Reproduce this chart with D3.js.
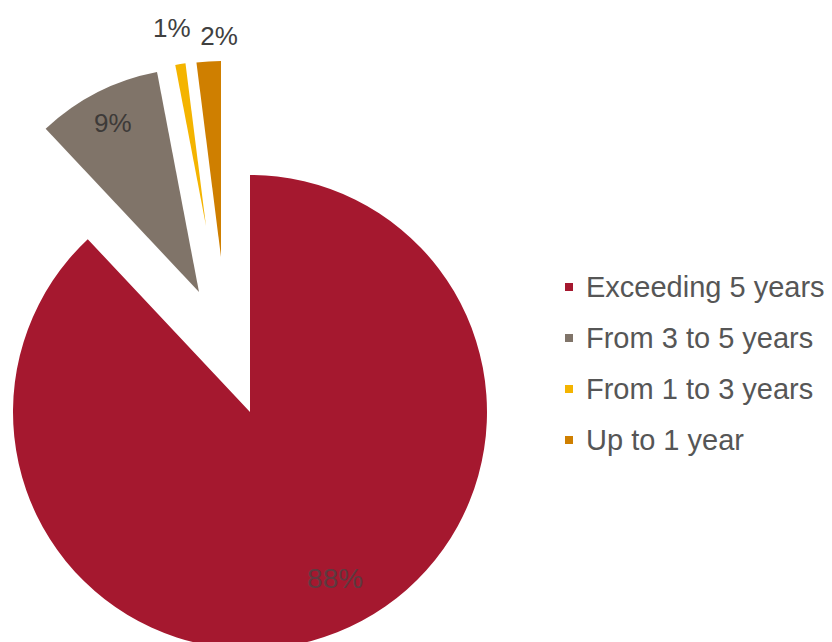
<!DOCTYPE html>
<html>
<head>
<meta charset="utf-8">
<script src="https://cdn.jsdelivr.net/npm/d3@7"></script>
<style>
  html, body { margin: 0; padding: 0; background: #fff; }
  svg { display: block; font-family: "Liberation Sans", Arial, sans-serif; }
</style>
</head>
<body>
<svg id="chart" width="832" height="642"></svg>
<script>
// data
var categories = ["Exceeding 5 years", "From 3 to 5 years", "From 1 to 3 years", "Up to 1 year"];
var shares = [88, 9, 1, 2];
var labels = ["88%", "9%", "1%", "2%"];
var colors = ["#a5182f", "#807469", "#f4b400", "#cf7f00"];

// layout per slice: pulled-out offset of the slice tip, radius, label placement
var explode = [[0, 0], [-51, -120], [-44, -186], [-29, -155]];
var radii = [237, 224, 164, 196];
var labelR = [185, 190, 200, 221];
var labelNudge = [[17, -6], [0, 0], [-3, 0], [12, 0]];
var labelFill = ["#5e3a40", "#3d3a38", "#404040", "#404040"];

var cx = 250, cy = 412;

var svg = d3.select("#chart");
svg.append("rect").attr("width", 832).attr("height", 642).attr("fill", "#fff");

var pie = d3.pie().sort(null).startAngle(0).endAngle(2 * Math.PI).value(function (d) { return d; });
var arcs = pie(shares);

var g = svg.append("g").attr("transform", "translate(" + cx + "," + cy + ")");

var slices = g.selectAll("g.slice")
    .data(arcs)
    .enter()
    .append("g")
    .attr("class", "slice")
    .attr("transform", function (d, i) { return "translate(" + explode[i][0] + "," + explode[i][1] + ")"; });

slices.append("path")
    .attr("d", function (d, i) {
        return d3.arc().innerRadius(0).outerRadius(radii[i])(d);
    })
    .attr("fill", function (d, i) { return colors[i]; });

slices.append("text")
    .attr("x", function (d, i) {
        var a = (d.startAngle + d.endAngle) / 2;
        return Math.sin(a) * labelR[i] + labelNudge[i][0];
    })
    .attr("y", function (d, i) {
        var a = (d.startAngle + d.endAngle) / 2;
        return -Math.cos(a) * labelR[i] + labelNudge[i][1];
    })
    .attr("text-anchor", "middle")
    .attr("dominant-baseline", "central")
    .attr("font-size", function (d, i) { return i === 0 ? 28 : 26; })
    .attr("fill", function (d, i) { return labelFill[i]; })
    .text(function (d, i) { return labels[i]; });

// legend
var ly = d3.scalePoint().domain(categories).range([297, 450]);

var legend = svg.append("g").attr("class", "legend");
var rows = legend.selectAll("g")
    .data(categories)
    .enter()
    .append("g")
    .attr("transform", function (d) { return "translate(565," + ly(d) + ")"; });

rows.append("rect")
    .attr("x", 0)
    .attr("y", -14)
    .attr("width", 8)
    .attr("height", 8)
    .attr("fill", function (d, i) { return colors[i]; });

rows.append("text")
    .attr("x", 21)
    .attr("y", 0)
    .attr("font-size", 29)
    .attr("fill", "#565656")
    .text(function (d) { return d; });
</script>
</body>
</html>
